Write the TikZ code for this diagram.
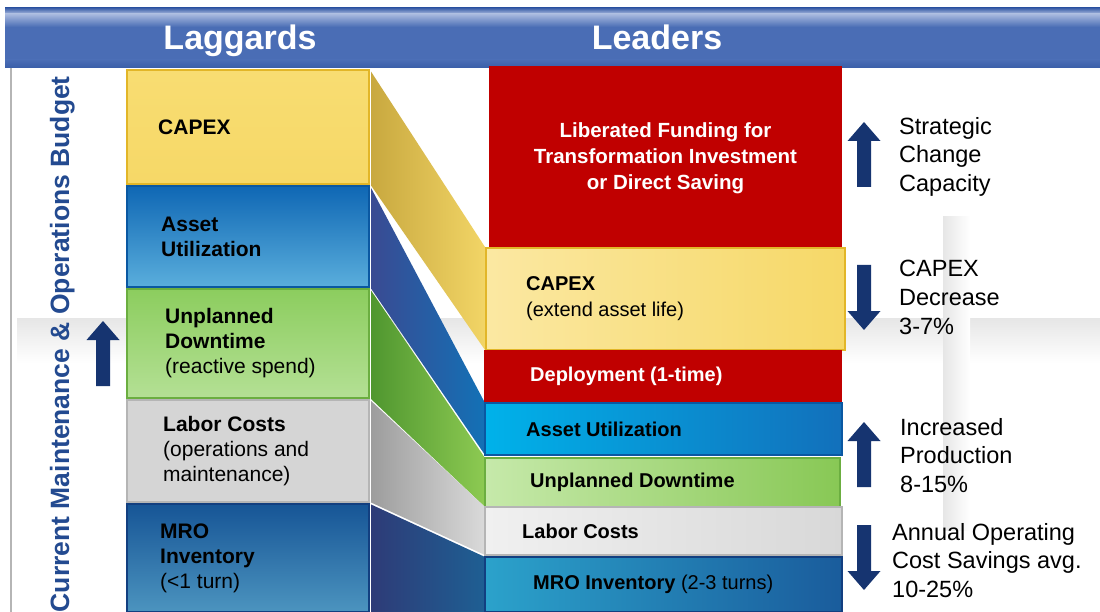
\documentclass[tikz,border=0pt]{standalone}
\usepackage{fontspec}
\setmainfont{Liberation Sans}
\usetikzlibrary{calc}
\definecolor{hdr}{HTML}{4A6DB5}
\definecolor{hdrlight}{HTML}{A9BADF}
\definecolor{hdrdark}{HTML}{3A5EA8}
\definecolor{arrowblue}{HTML}{163470}
\definecolor{budgetblue}{HTML}{234A90}
\definecolor{ylwA}{HTML}{F8DD72}
\definecolor{ylwB}{HTML}{F6D867}
\definecolor{ylwEdge}{HTML}{E2B628}
\definecolor{ylwLight}{HTML}{FBE8A2}
\definecolor{bluTop}{HTML}{0F67B4}
\definecolor{bluBot}{HTML}{5AAEDC}
\definecolor{bluEdge}{HTML}{0A58A2}
\definecolor{grnTop}{HTML}{8CCD5E}
\definecolor{grnBot}{HTML}{B4E095}
\definecolor{grnEdge}{HTML}{6BAE40}
\definecolor{gryA}{HTML}{D5D5D5}
\definecolor{gryEdge}{HTML}{B5B5B5}
\definecolor{mroTop}{HTML}{165596}
\definecolor{mroBot}{HTML}{4C94BF}
\definecolor{mroEdge}{HTML}{123F80}
\definecolor{redbox}{HTML}{C00000}
\definecolor{cyanL}{HTML}{00B2EA}
\definecolor{cyanR}{HTML}{1270BB}
\definecolor{grnL}{HTML}{C6E9AA}
\definecolor{grnR}{HTML}{88C855}
\definecolor{grayL}{HTML}{F0F0F0}
\definecolor{grayR}{HTML}{D8D8D8}
\definecolor{mroL}{HTML}{2BA2CB}
\definecolor{mroR}{HTML}{1A5C9C}
\definecolor{rYa}{HTML}{C8A83F}
\definecolor{rYb}{HTML}{F2D566}
\definecolor{rBa}{HTML}{3A4A92}
\definecolor{rBb}{HTML}{1371B6}
\definecolor{rGa}{HTML}{4F962F}
\definecolor{rGb}{HTML}{8DCA52}
\definecolor{rLa}{HTML}{9C9C9C}
\definecolor{rLb}{HTML}{DADADA}
\definecolor{rMa}{HTML}{2E3B77}
\definecolor{rMb}{HTML}{1E5F93}
\definecolor{faint}{HTML}{E6E6E6}
\begin{document}
\begin{tikzpicture}[x=1pt,y=-1pt,
  box/.style={rectangle, inner sep=0pt, outer sep=0pt, anchor=north west, line width=1.5pt},
  btxt/.style={anchor=west, align=left, inner sep=0pt, font=\fontsize{21}{25}\selectfont, text=black},
  rbtxt/.style={anchor=west, align=left, inner sep=0pt, font=\fontsize{20}{26}\selectfont, text=black},
  rtxt/.style={anchor=north west, align=left, inner sep=0pt, font=\fontsize{23.5}{28.7}\selectfont, text=black},
  uparr/.pic={\fill[arrowblue] (-7,65) -- (-7,19) -- (-16.5,19) -- (0,0) -- (16.5,19) -- (7,19) -- (7,65) -- cycle;},
  downarr/.pic={\fill[arrowblue] (-7,0) -- (-7,46) -- (-16.5,46) -- (0,65) -- (16.5,46) -- (7,46) -- (7,0) -- cycle;}
]
\useasboundingbox (0,0) rectangle (1100,612);
\fill[white] (0,0) rectangle (1100,612);

% faint background bands
\shade[top color=faint, bottom color=white] (17,318) rectangle (1100,363);
\shade[left color=faint, right color=white] (943,217) rectangle (970,530);

% header
\node[box, minimum width=1095pt, minimum height=60pt, fill=hdr] (header) at (5,8) {};
\shade[top color=hdrdark, bottom color=hdrlight] (5,8) rectangle (1100,14);
\shade[top color=hdrlight, bottom color=hdr] (5,14) rectangle (1100,27);
\shade[top color=hdr, bottom color=hdrdark] (5,60) rectangle (1100,68);
\node[anchor=base, inner sep=0pt, text=white, font=\fontsize{34}{36}\selectfont\bfseries] (lag) at (240,50) {Laggards};
\node[anchor=base, inner sep=0pt, text=white, font=\fontsize{34}{36}\selectfont\bfseries] (lead) at (657,50) {Leaders};

% left frame line
\draw[gryEdge, line width=2pt] (11,68) -- (11,612);

% vertical budget label and arrow
\node[rotate=90, anchor=base east, inner sep=0pt, text=budgetblue, font=\fontsize{26.5}{28}\selectfont\bfseries] (budget) at (69,76) {Current Maintenance \& Operations Budget};
\pic at (103,321) {uparr};

% left stack (laggards)
\node[box, minimum width=242pt, minimum height=114pt, top color=ylwA, bottom color=ylwB, draw=ylwEdge] (capL) at (127,70) {};
\node[box, minimum width=242pt, minimum height=101pt, top color=bluTop, bottom color=bluBot, draw=bluEdge] (auL) at (127,186) {};
\node[box, minimum width=242pt, minimum height=109pt, top color=grnTop, bottom color=grnBot, draw=grnEdge] (udL) at (127,289) {};
\node[box, minimum width=242pt, minimum height=102pt, fill=gryA, draw=gryEdge] (lcL) at (127,400) {};
\node[box, minimum width=242pt, minimum height=108pt, top color=mroTop, bottom color=mroBot, draw=mroEdge] (mroL) at (127,504) {};

% ribbons
\shade[left color=rYa, right color=rYb] ([xshift=1pt]capL.north east) -- (485,247) -- (485,350) -- ([xshift=1pt]capL.south east) -- cycle;
\shade[left color=rBa, right color=rBb] ([xshift=1pt]auL.north east) -- (485,403) -- (485,455) -- ([xshift=1pt]auL.south east) -- cycle;
\shade[left color=rGa, right color=rGb] ([xshift=1pt]udL.north east) -- (485,458) -- (485,507) -- ([xshift=1pt]udL.south east) -- cycle;
\shade[left color=rLa, right color=rLb] ([xshift=1pt]lcL.north east) -- (485,507) -- (485,555) -- ([xshift=1pt]lcL.south east) -- cycle;
\shade[left color=rMa, right color=rMb] ([xshift=1pt]mroL.north east) -- (485,557) -- (485,612) -- ([xshift=1pt]mroL.south east) -- cycle;
\draw[white, line width=1pt] (370,70) -- (370,612);

% left texts
\node[btxt] (tcapL) at ([xshift=31pt]capL.west) {\bfseries CAPEX};
\node[btxt] (tauL) at ([xshift=34pt]auL.west) {\bfseries Asset\\\bfseries Utilization};
\node[btxt] (tudL) at ([xshift=38pt]udL.west) {\bfseries Unplanned\\\bfseries Downtime\\(reactive spend)};
\node[btxt] (tlcL) at ([xshift=36pt]lcL.west) {\bfseries Labor Costs\\(operations and\\maintenance)};
\node[btxt] (tmroL) at ([xshift=33pt]mroL.west) {\bfseries MRO\\\bfseries Inventory\\(<1 turn)};

% right stack (leaders)
\node[box, minimum width=353pt, minimum height=184pt, fill=redbox] (lib) at (489,66) {};
\node[box, minimum width=359pt, minimum height=102pt, left color=ylwLight, right color=ylwB, draw=ylwEdge] (capR) at (486,248) {};
\node[box, minimum width=358pt, minimum height=53pt, fill=redbox] (dep) at (484,350) {};
\node[box, minimum width=357pt, minimum height=52pt, left color=cyanL, right color=cyanR, draw=bluEdge] (auR) at (485,403) {};
\node[box, minimum width=355pt, minimum height=49pt, left color=grnL, right color=grnR, draw=grnEdge] (udR) at (485,458) {};
\node[box, minimum width=357pt, minimum height=48pt, left color=grayL, right color=grayR, draw=gryEdge] (lcR) at (485,507) {};
\node[box, minimum width=357pt, minimum height=55pt, left color=mroL, right color=mroR, draw=mroEdge] (mroR) at (485,557) {};

% right texts
\node[align=center, inner sep=0pt, text=white, font=\fontsize{20.5}{26}\selectfont\bfseries] (tlib) at (lib.center) {Liberated Funding for\\Transformation Investment\\or Direct Saving};
\node[rbtxt] (tcapR) at ([xshift=40pt]capR.west) {\bfseries CAPEX\\(extend asset life)};
\node[rbtxt, text=white] (tdep) at ([xshift=46pt]dep.west) {\bfseries Deployment (1-time)};
\node[rbtxt] (tauR) at ([xshift=41pt]auR.west) {\bfseries Asset Utilization};
\node[rbtxt] (tudR) at ([xshift=45pt]udR.west) {\bfseries Unplanned Downtime};
\node[rbtxt] (tlcR) at ([xshift=37pt]lcR.west) {\bfseries Labor Costs};
\node[rbtxt] (tmroR) at ([xshift=48pt]mroR.west) {\bfseries MRO Inventory\mdseries\ (2-3 turns)};

% right indicators
\pic at (864,122) {uparr};
\pic at (864,265) {downarr};
\pic at (864,422) {uparr};
\pic at (864,525) {downarr};
\node[rtxt] (s1) at (899,117) {Strategic\\Change\\Capacity};
\node[rtxt] (s2) at (899,260) {CAPEX\\Decrease\\3-7\%};
\node[rtxt] (s3) at (900,418) {Increased\\Production\\8-15\%};
\node[rtxt] (s4) at (892,523) {Annual Operating\\Cost Savings avg.\\10-25\%};
\end{tikzpicture}
\end{document}
